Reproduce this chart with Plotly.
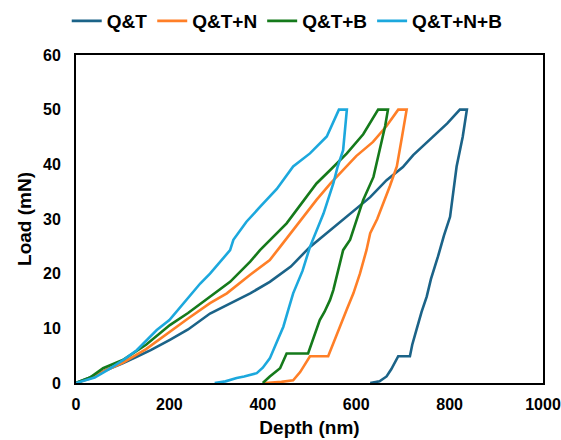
import plotly.graph_objects as go

# ---- data (depth in nm, load in mN) ----
qt_depth = [0, 30, 60, 100, 130, 160, 201, 240, 287, 330, 373, 415, 460, 501, 545, 587, 630, 665, 700, 722, 745, 765, 795, 822, 837,
            828, 815, 801, 788, 775, 760, 751, 740, 729, 720, 715, 690, 675, 665, 650, 630]
qt_load = [0, 1, 2.2, 3.6, 4.8, 6, 7.9, 9.8, 12.7, 14.6, 16.4, 18.5, 21.3, 24.9, 28, 31, 34, 37.1, 39.5, 41.7, 43.5, 45.1, 47.5, 50, 50,
           45, 39.6, 30.4, 27, 23.1, 19, 15.8, 13, 9.7, 7, 4.9, 4.9, 2.5, 1.2, 0.3, 0]

qtn_depth = [0, 30, 58, 100, 150, 201, 240, 287, 323, 373, 415, 437, 475, 515, 545, 572, 600, 636, 665, 690, 708,
             698, 687, 672, 658, 645, 630, 622, 608, 594, 580, 565, 550, 540, 501, 480, 465, 440, 405]
qtn_load = [0, 0.8, 2.1, 3.7, 6.2, 9.4, 11.8, 14.6, 16.4, 19.8, 22.5, 24.9, 29, 33.5, 36.5, 39, 41.5, 44.1, 47, 50, 50,
            45, 39.6, 36, 32.9, 30, 27.4, 24.3, 20, 16.4, 13.5, 10.3, 7, 4.9, 4.9, 2, 0.5, 0.2, 0]

qtb_depth = [0, 30, 58, 100, 150, 201, 240, 287, 330, 373, 394, 451, 480, 515, 545, 580, 615, 647, 668,
             662, 655, 637, 615, 600, 587, 572, 560, 551, 544, 532, 522, 510, 501, 497, 451, 437, 415, 400]
qtb_load = [0, 1, 2.7, 4.2, 7, 10.6, 12.8, 15.8, 18.5, 22.2, 24.3, 29.2, 32.5, 36.5, 39, 42, 45.5, 50, 50,
            47, 44.4, 37.7, 33.5, 29.5, 26.2, 24.3, 20, 17, 15.2, 13, 11.5, 8.5, 6, 5.4, 5.4, 2.7, 1.2, 0]

qtnb_depth = [0, 40, 70, 101, 130, 173, 200, 230, 266, 287, 330, 337, 365, 394, 430, 465, 501, 537, 563, 580,
              576, 572, 560, 551, 530, 515, 501, 485, 465, 455, 444, 430, 415, 400, 387, 360, 344, 320, 297]
qtnb_load = [0, 1, 2.5, 4.2, 6, 9.7, 11.5, 14.6, 18.2, 20, 24.3, 26.2, 29.5, 32.2, 35.5, 39.6, 42, 45.1, 50, 50,
             46, 42.6, 39.5, 36.5, 31, 28, 24.9, 20.5, 16.4, 13.5, 10.3, 7.5, 4.5, 2.8, 1.8, 1.2, 0.9, 0.3, 0]

series_names = ["Q&T", "Q&T+N", "Q&T+B", "Q&T+N+B"]
x_ticks = [0, 200, 400, 600, 800, 1000]
y_ticks = [0, 10, 20, 30, 40, 50, 60]

colors = ["#1B6388", "#FF7F27", "#157A1B", "#1CA8DD"]

fig = go.Figure()
for name, xs, ys, c in zip(series_names,
                           [qt_depth, qtn_depth, qtb_depth, qtnb_depth],
                           [qt_load, qtn_load, qtb_load, qtnb_load], colors):
    fig.add_trace(go.Scatter(x=xs, y=ys, mode="lines", name=name,
                             line=dict(color=c, width=2.6)))

font_main = "Liberation Sans, Arial, sans-serif"
fig.update_layout(
    width=561, height=440,
    margin=dict(l=76, r=18, t=55, b=57, autoexpand=False),
    paper_bgcolor="white", plot_bgcolor="white",
    font=dict(family=font_main, size=16, color="black"),
    showlegend=True,
    legend=dict(orientation="h", xref="container", yref="container",
                x=0.512, xanchor="center", y=1 - 21 / 440, yanchor="middle",
                font=dict(size=19, family=font_main, weight="bold"),
                itemwidth=30, tracegroupgap=0, bgcolor="rgba(0,0,0,0)"),
    xaxis=dict(range=[0, 1000], tickvals=x_ticks, ticks="", showgrid=False, zeroline=False,
               showline=True, linecolor="black", linewidth=2, mirror=True,
               tickfont=dict(size=16, weight="bold"), ticklabelstandoff=6,
               title=dict(text="<b>Depth (nm)</b>", font=dict(size=19), standoff=8)),
    yaxis=dict(range=[0, 60], tickvals=y_ticks, ticks="", showgrid=False, zeroline=False,
               showline=True, linecolor="black", linewidth=2, mirror=True,
               tickfont=dict(size=16, weight="bold"), ticklabelstandoff=10,
               title=dict(text="<b>Load (mN)</b>", font=dict(size=19), standoff=6)),
)

fig.write_html("out.html")
